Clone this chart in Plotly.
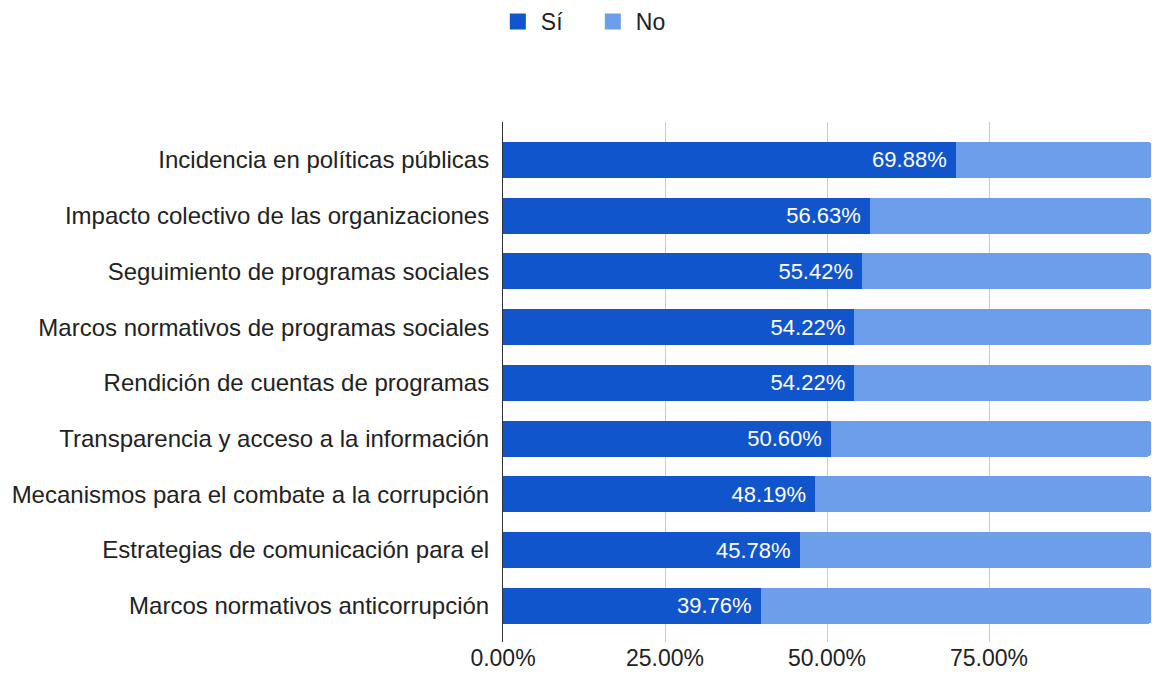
import plotly.graph_objects as go

categories = [
    "Incidencia en políticas públicas",
    "Impacto colectivo de las organizaciones",
    "Seguimiento de programas sociales",
    "Marcos normativos de programas sociales",
    "Rendición de cuentas de programas",
    "Transparencia y acceso a la información",
    "Mecanismos para el combate a la corrupción",
    "Estrategias de comunicación para el",
    "Marcos normativos anticorrupción",
]
si_values = [69.88, 56.63, 55.42, 54.22, 54.22, 50.60, 48.19, 45.78, 39.76]
no_values = [round(100 - v, 2) for v in si_values]
tick_vals = [0, 25, 50, 75]
tick_text = ["0.00%", "25.00%", "50.00%", "75.00%"]

SI_COLOR = "#1155cc"
NO_COLOR = "#6d9eeb"
FONT = "Arial, 'Liberation Sans', sans-serif"
TXT = "#222222"

fig = go.Figure()
fig.add_trace(go.Bar(
    y=categories, x=si_values, orientation="h", name="Sí",
    marker=dict(color=SI_COLOR, line=dict(width=0)),
    texttemplate="%{x:.2f}%\u00a0",
    textposition="inside", insidetextanchor="end",
    textfont=dict(color="white", size=22, family=FONT),
    showlegend=False, hoverinfo="x+name",
))
fig.add_trace(go.Bar(
    y=categories, x=no_values, orientation="h", name="No",
    marker=dict(color=NO_COLOR, line=dict(width=0)),
    showlegend=False, hoverinfo="x+name",
))
# legend entries
fig.add_trace(go.Scatter(x=[None], y=[None], mode="markers", name="Sí",
                         marker=dict(symbol="square", size=16, color=SI_COLOR)))
fig.add_trace(go.Scatter(x=[None], y=[None], mode="markers", name="No",
                         marker=dict(symbol="square", size=16, color=NO_COLOR)))

fig.update_layout(
    width=1152, height=684,
    barmode="stack", bargap=0.355, barcornerradius=3,
    paper_bgcolor="white", plot_bgcolor="white",
    margin=dict(l=503, r=1, t=122, b=42),
    font=dict(family=FONT, size=23, color=TXT),
    legend=dict(orientation="h", traceorder="normal",
                xref="container", yref="container",
                x=0.512, xanchor="center", y=1.0, yanchor="top",
                font=dict(size=23, color=TXT), itemwidth=36, entrywidth=44),
    xaxis=dict(range=[0, 100], tickvals=tick_vals, ticktext=tick_text,
               showgrid=True, gridcolor="#cccccc", gridwidth=1,
               zeroline=False, showline=False, fixedrange=True,
               tickfont=dict(size=23, color=TXT)),
    yaxis=dict(type="category", categoryorder="array", categoryarray=categories,
               range=[8.65, -0.68], showline=True, linecolor="#333333", linewidth=1,
               showgrid=False, ticks="", ticklabelstandoff=8,
               tickfont=dict(size=24, color=TXT)),
)

fig.write_html("out.html", config={"displayModeBar": False},
               post_script="document.body.style.margin='0';")
